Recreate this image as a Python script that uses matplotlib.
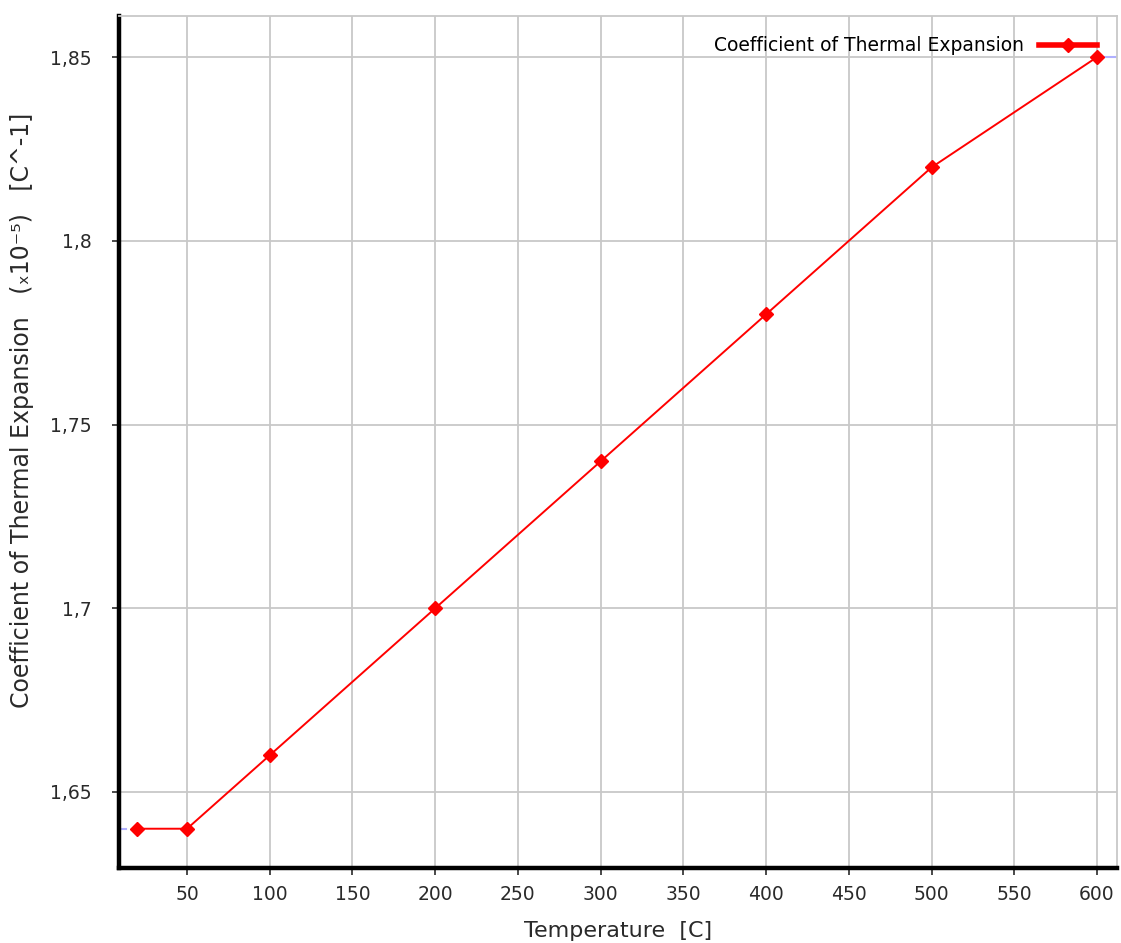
import matplotlib.pyplot as plt
from matplotlib.lines import Line2D

# temperature [C] vs coefficient of thermal expansion (x10^-5)
temps = [20, 50, 100, 200, 300, 400, 500, 600]
cte = [1.64, 1.64, 1.66, 1.70, 1.74, 1.78, 1.82, 1.85]
xticks = [50, 100, 150, 200, 250, 300, 350, 400, 450, 500, 550, 600]
yticks = [1.65, 1.70, 1.75, 1.80, 1.85]
ylabels = ['1,65', '1,7', '1,75', '1,8', '1,85']

fig = plt.figure(figsize=(11.21, 9.43), dpi=100)
ax = fig.add_axes([0.1062, 0.0795, 0.8902, 0.9035])

ax.plot(temps, cte, color='red', lw=1.4, marker='D', ms=7, zorder=3)

# faint range markers at the ends
ax.plot([9.5, 13], [cte[0], cte[0]], color='#b0b0ff', lw=1.5, zorder=2)
ax.plot([605, 611], [cte[-1], cte[-1]], color='#b0b0ff', lw=1.5, zorder=2)

ax.set_xlim(8.9, 612.1)
ax.set_ylim(1.6293, 1.8612)
ax.set_xticks(xticks)
ax.set_yticks(yticks)
ax.set_yticklabels(ylabels)
ax.tick_params(labelsize=13.5, colors='#2a2a2a', length=5, width=1.2, pad=7)
ax.tick_params(axis='y', pad=15)
ax.grid(True, color='#c8c8c8', lw=1.3)
ax.set_axisbelow(True)

for s in ['left', 'bottom']:
    ax.spines[s].set_linewidth(3.2)
    ax.spines[s].set_color('black')
for s in ['top', 'right']:
    ax.spines[s].set_linewidth(1.3)
    ax.spines[s].set_color('#c8c8c8')

ax.set_xlabel('Temperature  [C]', fontsize=16, color='#2a2a2a')
ax.set_ylabel('Coefficient of Thermal Expansion   (ₓ10⁻⁵)   [C^-1]', fontsize=17,
              color='#2a2a2a')
ax.xaxis.set_label_coords(0.5, -0.062)
ax.yaxis.set_label_coords(-0.085, 0.537)

handle = Line2D([], [], color='red', lw=4, marker='D', ms=7)
ax.legend([handle], ['Coefficient of Thermal Expansion'], loc='upper right',
          frameon=False, markerfirst=False, fontsize=13.5, handlelength=3.1,
          handletextpad=0.8, bbox_to_anchor=(0.98, 0.976), borderaxespad=0,
          borderpad=0)

fig.savefig('out.png', dpi=100)
